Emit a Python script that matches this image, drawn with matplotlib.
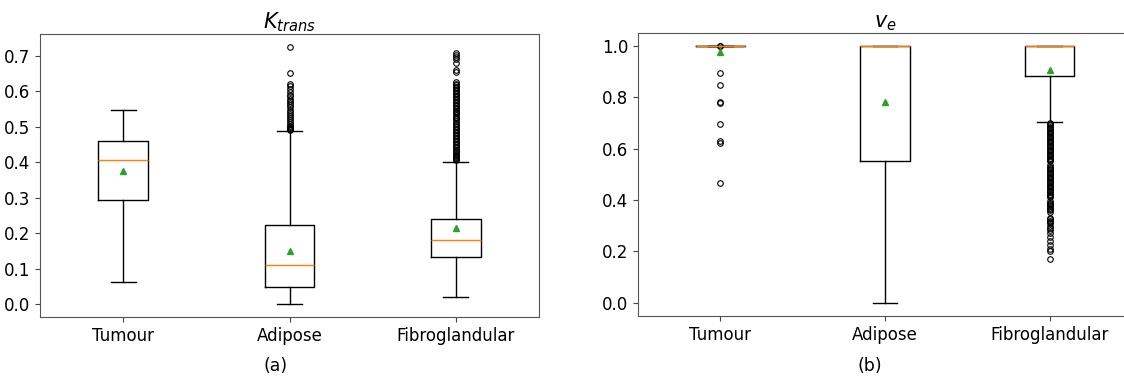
import matplotlib
matplotlib.use('Agg')
import matplotlib.pyplot as plt

groups = ['Tumour', 'Adipose', 'Fibroglandular']

# K_trans summary statistics per tissue
ktrans_whislo = [0.062, 0.000, 0.020]
ktrans_q1     = [0.293, 0.047, 0.133]
ktrans_med    = [0.406, 0.110, 0.180]
ktrans_q3     = [0.458, 0.222, 0.241]
ktrans_whishi = [0.546, 0.488, 0.401]
ktrans_mean   = [0.374, 0.150, 0.214]

ktrans_fliers_tumour = []
ktrans_fliers_adipose = [
    0.725, 0.650, 0.620, 0.615, 0.605, 0.598, 0.590, 0.585, 0.578, 0.572,
    0.566, 0.560, 0.555, 0.548, 0.542, 0.536, 0.530, 0.524, 0.518, 0.512,
    0.507, 0.503, 0.499, 0.496, 0.494, 0.492, 0.490]
ktrans_fliers_fibro = [
    0.708, 0.703, 0.697, 0.690, 0.680, 0.658, 0.654,
    0.625, 0.621, 0.617, 0.612, 0.608, 0.604, 0.600, 0.596, 0.591, 0.587,
    0.583, 0.579, 0.575, 0.570, 0.566, 0.562, 0.558, 0.553, 0.549, 0.545,
    0.541, 0.537, 0.532, 0.528, 0.524, 0.520, 0.515, 0.511, 0.507, 0.503,
    0.499, 0.494, 0.490, 0.486, 0.482, 0.477, 0.473, 0.469, 0.464, 0.460,
    0.456, 0.451, 0.447, 0.443, 0.439, 0.435, 0.431, 0.428, 0.424, 0.420,
    0.417, 0.414, 0.411, 0.408, 0.405]

# v_e summary statistics per tissue
ve_whislo = [1.000, 0.000, 0.703]
ve_q1     = [1.000, 0.551, 0.881]
ve_med    = [1.000, 1.000, 1.000]
ve_q3     = [1.000, 1.000, 1.000]
ve_whishi = [1.000, 1.000, 1.000]
ve_mean   = [0.977, 0.779, 0.905]

ve_fliers_tumour = [1.000, 0.999, 0.893, 0.847, 0.780, 0.776, 0.697, 0.628, 0.623, 0.465]
ve_fliers_adipose = []
ve_fliers_fibro = [
    0.700, 0.695, 0.690, 0.685, 0.680, 0.675, 0.670, 0.665, 0.660, 0.655,
    0.650, 0.645, 0.640, 0.635, 0.630, 0.625, 0.620, 0.615, 0.610, 0.605,
    0.600, 0.595, 0.590, 0.585, 0.580, 0.575, 0.570, 0.565, 0.560, 0.555,
    0.550, 0.535, 0.530, 0.525, 0.520, 0.515, 0.510, 0.505, 0.500, 0.495,
    0.490, 0.485, 0.480, 0.475, 0.470, 0.465, 0.460, 0.455, 0.450, 0.445,
    0.440, 0.435, 0.430, 0.425, 0.420, 0.415, 0.410, 0.395, 0.390, 0.385,
    0.380, 0.375, 0.370, 0.365, 0.360, 0.355, 0.330, 0.325, 0.320, 0.315,
    0.310, 0.300, 0.290, 0.285, 0.270, 0.255, 0.240, 0.225, 0.210, 0.200,
    0.172]


def build_stats(whislo, q1, med, q3, whishi, mean, fliers):
    stats = []
    for i in range(len(groups)):
        stats.append(dict(label=groups[i], whislo=whislo[i], q1=q1[i], med=med[i],
                          q3=q3[i], whishi=whishi[i], mean=mean[i], fliers=fliers[i]))
    return stats


ktrans_stats = build_stats(ktrans_whislo, ktrans_q1, ktrans_med, ktrans_q3, ktrans_whishi,
                           ktrans_mean, [ktrans_fliers_tumour, ktrans_fliers_adipose, ktrans_fliers_fibro])
ve_stats = build_stats(ve_whislo, ve_q1, ve_med, ve_q3, ve_whishi,
                       ve_mean, [ve_fliers_tumour, ve_fliers_adipose, ve_fliers_fibro])

plt.rcParams['font.family'] = 'DejaVu Sans'

fig = plt.figure(figsize=(11.24, 3.76), dpi=100)
ax1 = fig.add_axes([0.0356, 0.157, 0.444, 0.753])
ax2 = fig.add_axes([0.5676, 0.160, 0.4395, 0.753])

flierprops = dict(marker='o', markersize=4, markeredgewidth=0.8, markerfacecolor='none')
meanprops = dict(marker='^', markersize=4, markerfacecolor='tab:green', markeredgecolor='tab:green')

for ax, stats, title in [(ax1, ktrans_stats, r'$K_{trans}$'), (ax2, ve_stats, r'$v_e$')]:
    ax.bxp(stats, showmeans=True, flierprops=flierprops, meanprops=meanprops)
    ax.set_title(title, fontsize=15, pad=2)
    ax.tick_params(labelsize=12, color='#444444')
    for sp in ax.spines.values():
        sp.set_color('#555555')

ax1.set_yticks([0.0, 0.1, 0.2, 0.3, 0.4, 0.5, 0.6, 0.7])
ax2.set_yticks([0.0, 0.2, 0.4, 0.6, 0.8, 1.0])

fig.text(0.245, 0.027, '(a)', ha='center', va='center', fontsize=12.5)
fig.text(0.774, 0.027, '(b)', ha='center', va='center', fontsize=12.5)

fig.savefig('out.png', dpi=100)
